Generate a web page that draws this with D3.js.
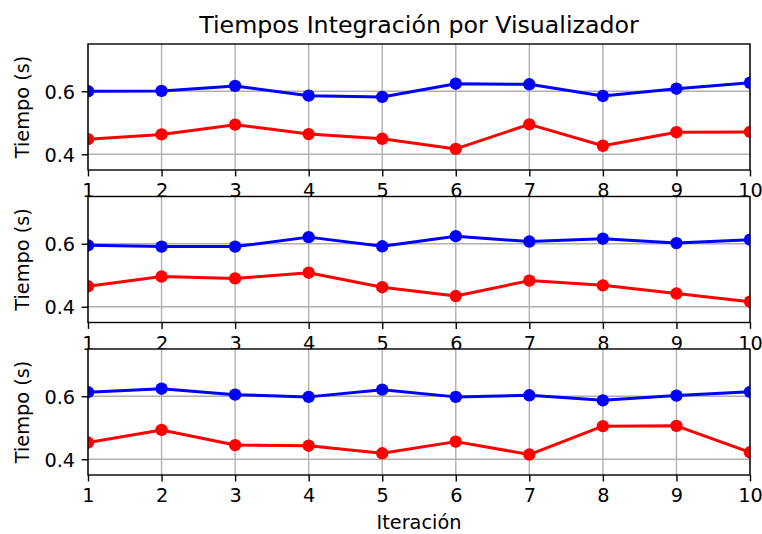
<!DOCTYPE html>
<html>
<head>
<meta charset="utf-8">
<script src="https://cdn.jsdelivr.net/npm/d3@7"></script>
<style>
  html, body { margin: 0; padding: 0; background: #fff; }
  svg { display: block; font-family: "DejaVu Sans", sans-serif; }
</style>
</head>
<body>
<svg id="chart" width="762" height="534"></svg>
<script>
// Iterations shared by all three panels
const iterations = [1, 2, 3, 4, 5, 6, 7, 8, 9, 10];

// Panel 1
const panel1Blue = [0.600, 0.601, 0.617, 0.586, 0.582, 0.624, 0.622, 0.585, 0.608, 0.627];
const panel1Red  = [0.448, 0.463, 0.494, 0.464, 0.449, 0.417, 0.495, 0.427, 0.470, 0.471];

// Panel 2
const panel2Blue = [0.595, 0.591, 0.591, 0.621, 0.592, 0.624, 0.607, 0.616, 0.602, 0.613];
const panel2Red  = [0.465, 0.496, 0.490, 0.508, 0.462, 0.434, 0.483, 0.468, 0.442, 0.416];

// Panel 3
const panel3Blue = [0.613, 0.624, 0.605, 0.598, 0.621, 0.598, 0.603, 0.587, 0.602, 0.614];
const panel3Red  = [0.453, 0.493, 0.445, 0.443, 0.419, 0.456, 0.415, 0.505, 0.506, 0.422];

const yTicks = [0.4, 0.6];
const yDomain = [0.35, 0.75];
const xDomain = [1, 10];

const titleText = "Tiempos Integración por Visualizador";
const xLabelText = "Iteración";
const yLabelText = "Tiempo (s)";

const panels = [
  { blue: panel1Blue, red: panel1Red },
  { blue: panel2Blue, red: panel2Red },
  { blue: panel3Blue, red: panel3Red }
];

const svg = d3.select("#chart");
const left = 88, right = 750, panelH = 126;
const panelTops = [44, 196.5, 349];

const x = d3.scaleLinear().domain(xDomain).range([left, right]);

const tickLen = 6.4;
const fontPx = 19.3;

panels.forEach((p, i) => {
  const top = panelTops[i], bottom = top + panelH;
  const y = d3.scaleLinear().domain(yDomain).range([bottom, top]);
  const g = svg.append("g");

  // axes background (hides overflow from the panel above)
  g.append("rect")
    .attr("x", left).attr("y", top)
    .attr("width", right - left).attr("height", panelH)
    .attr("fill", "#fff");

  // grid
  g.append("g").selectAll("line").data(iterations).join("line")
    .attr("x1", d => x(d)).attr("x2", d => x(d))
    .attr("y1", top).attr("y2", bottom)
    .attr("stroke", "#b0b0b0").attr("stroke-width", 1.4);
  g.append("g").selectAll("line").data(yTicks).join("line")
    .attr("x1", left).attr("x2", right)
    .attr("y1", d => y(d)).attr("y2", d => y(d))
    .attr("stroke", "#b0b0b0").attr("stroke-width", 1.4);

  // clip for data
  const clipId = "clip" + i;
  svg.append("clipPath").attr("id", clipId)
    .append("rect")
    .attr("x", left).attr("y", top)
    .attr("width", right - left).attr("height", panelH);

  const data = g.append("g").attr("clip-path", `url(#${clipId})`);
  const line = d3.line().x((d, k) => x(iterations[k])).y(d => y(d));

  [["#0000ff", p.blue], ["#ff0000", p.red]].forEach(([color, vals]) => {
    data.append("path")
      .attr("d", line(vals))
      .attr("fill", "none")
      .attr("stroke", color)
      .attr("stroke-width", 3)
      .attr("stroke-linejoin", "round");
    data.append("g").selectAll("circle").data(vals).join("circle")
      .attr("cx", (d, k) => x(iterations[k]))
      .attr("cy", d => y(d))
      .attr("r", 6.2)
      .attr("fill", color);
  });

  // x axis
  const xAxis = d3.axisBottom(x).tickValues(iterations).tickFormat(d3.format("d"))
    .tickSize(tickLen).tickPadding(7);
  const gx = g.append("g").attr("transform", `translate(0,${bottom})`).call(xAxis);
  gx.select(".domain").remove();
  gx.selectAll(".tick line").attr("stroke", "#000").attr("stroke-width", 1.4);
  gx.selectAll(".tick text").attr("fill", "#000")
    .attr("font-size", fontPx).attr("font-family", "DejaVu Sans");

  // y axis
  const yAxis = d3.axisLeft(y).tickValues(yTicks).tickFormat(d3.format(".1f"))
    .tickSize(tickLen).tickPadding(6.5);
  const gy = g.append("g").attr("transform", `translate(${left},0)`).call(yAxis);
  gy.select(".domain").remove();
  gy.selectAll(".tick line").attr("stroke", "#000").attr("stroke-width", 1.4);
  gy.selectAll(".tick text").attr("fill", "#000")
    .attr("font-size", fontPx).attr("font-family", "DejaVu Sans")
    .attr("dy", "0.36em");

  // spines
  g.append("rect")
    .attr("x", left).attr("y", top)
    .attr("width", right - left).attr("height", panelH)
    .attr("fill", "none").attr("stroke", "#000").attr("stroke-width", 1.4);

  // y label
  g.append("text")
    .attr("transform", `translate(29,${(top + bottom) / 2}) rotate(-90)`)
    .attr("text-anchor", "middle")
    .attr("font-size", fontPx)
    .attr("fill", "#000")
    .text(yLabelText);
});

// title
svg.append("text")
  .attr("x", (left + right) / 2).attr("y", 33)
  .attr("text-anchor", "middle")
  .attr("font-size", 23.7)
  .attr("fill", "#000")
  .text(titleText);

// x label
svg.append("text")
  .attr("x", (left + right) / 2).attr("y", 529)
  .attr("text-anchor", "middle")
  .attr("font-size", fontPx)
  .attr("fill", "#000")
  .text(xLabelText);
</script>
</body>
</html>
